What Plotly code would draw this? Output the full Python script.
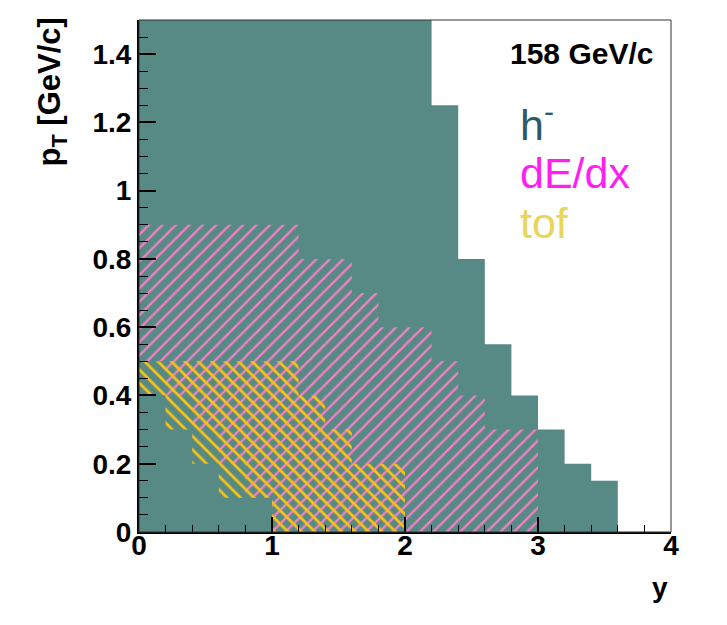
import plotly.graph_objects as go

# ---- data (rapidity bin edges, pT limits per bin) ----
h_edges = [0.0, 2.2, 2.4, 2.6, 2.8, 3.0, 3.2, 3.4, 3.6]
h_top = [1.5, 1.25, 0.8, 0.55, 0.4, 0.3, 0.2, 0.15]
h_low = [0.0, 0.0, 0.0, 0.0, 0.0, 0.0, 0.0, 0.0]

dedx_edges = [0.0, 0.2, 0.4, 0.6, 0.8, 1.0, 1.2, 1.6, 1.8, 2.2, 2.4, 2.6, 3.0]
dedx_top = [0.9, 0.9, 0.9, 0.9, 0.9, 0.9, 0.8, 0.7, 0.6, 0.5, 0.4, 0.3]
dedx_low = [0.5, 0.4, 0.3, 0.2, 0.1, 0.0, 0.0, 0.0, 0.0, 0.0, 0.0, 0.0]

tof_edges = [0.0, 0.2, 0.4, 0.6, 1.0, 1.2, 1.4, 1.6, 2.0]
tof_top = [0.5, 0.5, 0.5, 0.5, 0.5, 0.4, 0.3, 0.2]
tof_low = [0.4, 0.3, 0.2, 0.1, 0.0, 0.0, 0.0, 0.0]

labels = ["h<sup>-</sup>", "dE/dx", "tof"]
label_colors = ["#2d5a68", "#ff1ff0", "#e9d45c"]
energy_label = "158 GeV/c"

TEAL = "#578985"
PINK = "#f57fc4"
YELLOW = "#fbc213"


def staircase(edges, top, low):
    xs, ys = [], []
    for i in range(len(top)):
        xs += [edges[i], edges[i + 1]]
        ys += [top[i], top[i]]
    for i in reversed(range(len(low))):
        xs += [edges[i + 1], edges[i]]
        ys += [low[i], low[i]]
    xs.append(xs[0])
    ys.append(ys[0])
    return xs, ys


fig = go.Figure()

hx, hy = staircase(h_edges, h_top, h_low)
fig.add_trace(go.Scatter(x=hx, y=hy, mode="none", fill="toself",
                         fillcolor=TEAL, hoverinfo="skip", showlegend=False))

dx, dy = staircase(dedx_edges, dedx_top, dedx_low)
fig.add_trace(go.Scatter(x=dx, y=dy, mode="none", fill="toself",
                         fillcolor="rgba(0,0,0,0)",
                         fillpattern=dict(shape="/", fgcolor=PINK, fgopacity=1,
                                          bgcolor="rgba(0,0,0,0)",
                                          fillmode="replace",
                                          size=9.5, solidity=0.24),
                         hoverinfo="skip", showlegend=False))

tx, ty = staircase(tof_edges, tof_top, tof_low)
fig.add_trace(go.Scatter(x=tx, y=ty, mode="none", fill="toself",
                         fillcolor="rgba(0,0,0,0)",
                         fillpattern=dict(shape="\\", fgcolor=YELLOW, fgopacity=1,
                                          bgcolor="rgba(0,0,0,0)",
                                          fillmode="replace",
                                          size=9.5, solidity=0.29),
                         hoverinfo="skip", showlegend=False))

FONT = "Liberation Sans, Arial, Helvetica, sans-serif"

fig.update_layout(
    width=719, height=617,
    margin=dict(l=131, r=56, t=12, b=93),
    paper_bgcolor="white", plot_bgcolor="white",
    showlegend=False,
    xaxis=dict(range=[0, 4], dtick=1, tick0=0, ticks="inside", ticklen=15,
               tickwidth=1.5, tickcolor="black", ticklabelstandoff=-13,
               minor=dict(dtick=0.2, ticks="inside", ticklen=7,
                          tickwidth=1.2, tickcolor="black"),
               showline=True, linecolor="black", linewidth=2, mirror=False,
               showgrid=False, zeroline=False,
               tickfont=dict(family=FONT, size=28, color="black", weight="bold")),
    yaxis=dict(range=[0, 1.5], dtick=0.2, tick0=0, ticks="inside", ticklen=17,
               tickwidth=1.5, tickcolor="black",
               minor=dict(dtick=0.05, ticks="inside", ticklen=9,
                          tickwidth=1.2, tickcolor="black"),
               showline=True, linecolor="black", linewidth=2, mirror=False,
               showgrid=False, zeroline=False,
               tickfont=dict(family=FONT, size=28, color="black", weight="bold")),
)

fig.add_shape(type="rect", xref="paper", yref="paper", x0=0, y0=0, x1=1, y1=1,
              line=dict(color="#333333", width=1), layer="above")

ann = []
ann.append(dict(text=energy_label, x=0.97, y=0.935, xref="paper", yref="paper",
                xanchor="right", yanchor="middle", showarrow=False,
                font=dict(family=FONT, size=30, color="black", weight="bold")))
label_y = [0.801, 0.701, 0.604]
for t, c, yy in zip(labels, label_colors, label_y):
    ann.append(dict(text=t, x=0.712, y=yy, xref="paper", yref="paper",
                    xanchor="left", yanchor="middle", showarrow=False,
                    font=dict(family=FONT, size=43, color=c)))
ann.append(dict(text="y", x=0.998, y=-0.109, xref="paper", yref="paper",
                xanchor="right", yanchor="middle", showarrow=False,
                font=dict(family=FONT, size=28, color="black", weight="bold")))
ann.append(dict(text="p<sub>T</sub> [GeV/c]", x=-0.164, y=0.86, xref="paper",
                yref="paper", xanchor="center", yanchor="middle", textangle=-90,
                showarrow=False,
                font=dict(family=FONT, size=31, color="black", weight="bold")))
fig.update_layout(annotations=ann)

fig.write_html("out.html")
